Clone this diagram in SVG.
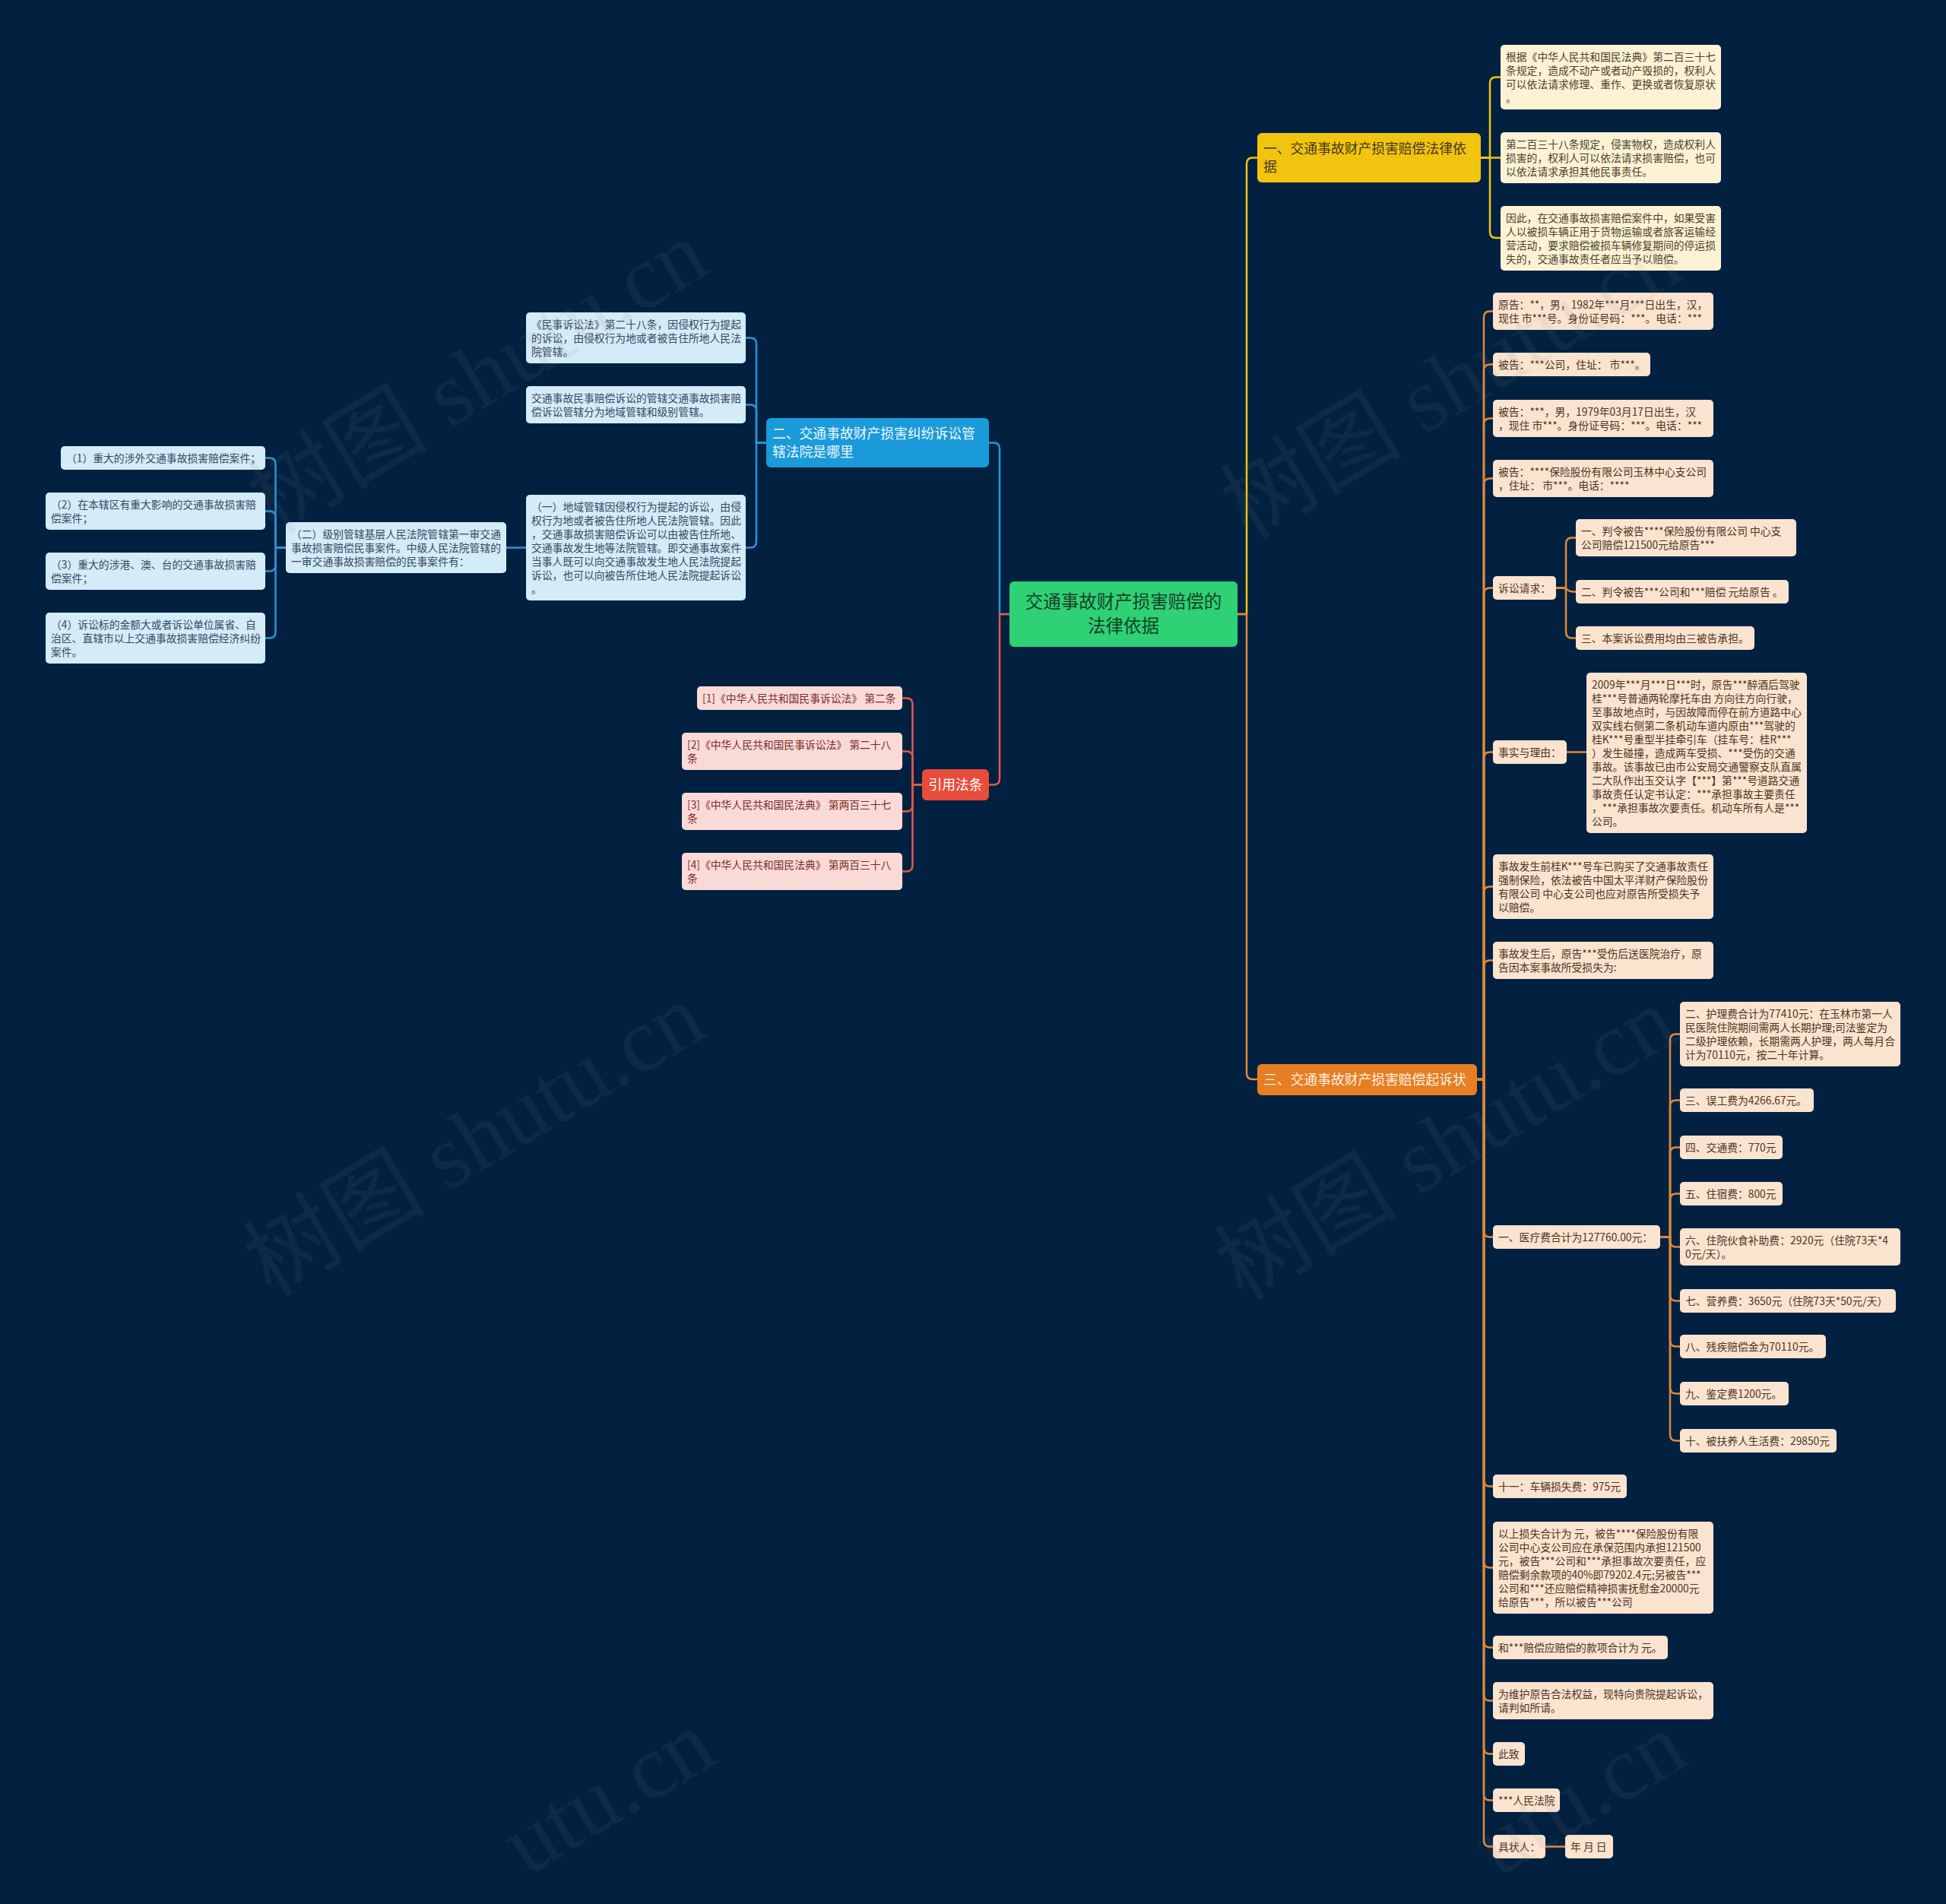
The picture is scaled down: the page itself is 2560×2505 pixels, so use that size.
<svg xmlns="http://www.w3.org/2000/svg" width="2560" height="2505" viewBox="0 0 2560 2505">
<style>
text{font-family:"Noto Sans CJK SC","Noto Sans",sans-serif}
.s{font-size:13.8px}
.b{font-size:17.8px}
.ly rect{fill:#fdf3d4}.ly text{fill:#4a4130}
.lo rect{fill:#fae3cf}.lo text{fill:#4d3422}
.lb rect{fill:#d4ebf8}.lb text{fill:#34495e}
.lr rect{fill:#fadad7}.lr text{fill:#7a2e28}
.c{fill:none;stroke-width:2.5;stroke-linecap:round}
.cy{stroke:#f1c40f}.co{stroke:#e0893a}.cb{stroke:#2d92d8}.cr{stroke:#e05a4a}
.wm{font-family:"Liberation Serif","Noto Sans CJK SC",serif;font-size:120px;fill:#8a8a8a;opacity:0.09}
</style>
<rect width="2560" height="2505" fill="#022140"/>

<g id="connectors">
<path class="c cy" d="M1628,808 H1640 V215.5 Q1640,207.5 1648,207.5 H1654"/>
<path class="c co" d="M1628,808 H1640 V1412 Q1640,1420 1648,1420 H1654"/>
<path class="c cb" d="M1328,808 H1315 V590.5 Q1315,582.5 1307,582.5 H1301"/>
<path class="c cr" d="M1328,808 H1315 V1024.5 Q1315,1032.5 1307,1032.5 H1301"/>

<path class="c cy" d="M1948,207.5 H1960 V109.5 Q1960,101.5 1968,101.5 H1974"/>
<path class="c cy" d="M1948,207.5 H1974"/>
<path class="c cy" d="M1948,207.5 H1960 V305 Q1960,313 1968,313 H1974"/>

<path class="c co" d="M1943,1420 H1952 V417.5 Q1952,409.5 1960,409.5 H1964"/>
<path class="c co" d="M1943,1420 H1952 V487.5 Q1952,479.5 1960,479.5 H1964"/>
<path class="c co" d="M1943,1420 H1952 V558.5 Q1952,550.5 1960,550.5 H1964"/>
<path class="c co" d="M1943,1420 H1952 V637.5 Q1952,629.5 1960,629.5 H1964"/>
<path class="c co" d="M1943,1420 H1952 V781.5 Q1952,773.5 1960,773.5 H1964"/>
<path class="c co" d="M1943,1420 H1952 V997.5 Q1952,989.5 1960,989.5 H1964"/>
<path class="c co" d="M1943,1420 H1952 V1174.5 Q1952,1166.5 1960,1166.5 H1964"/>
<path class="c co" d="M1943,1420 H1952 V1271.5 Q1952,1263.5 1960,1263.5 H1964"/>
<path class="c co" d="M1943,1420 H1952 V1619.5 Q1952,1627.5 1960,1627.5 H1964"/>
<path class="c co" d="M1943,1420 H1952 V1947.5 Q1952,1955.5 1960,1955.5 H1964"/>
<path class="c co" d="M1943,1420 H1952 V2054.5 Q1952,2062.5 1960,2062.5 H1964"/>
<path class="c co" d="M1943,1420 H1952 V2159.5 Q1952,2167.5 1960,2167.5 H1964"/>
<path class="c co" d="M1943,1420 H1952 V2229.5 Q1952,2237.5 1960,2237.5 H1964"/>
<path class="c co" d="M1943,1420 H1952 V2299.5 Q1952,2307.5 1960,2307.5 H1964"/>
<path class="c co" d="M1943,1420 H1952 V2360.5 Q1952,2368.5 1960,2368.5 H1964"/>
<path class="c co" d="M1943,1420 H1952 V2421.5 Q1952,2429.5 1960,2429.5 H1964"/>

<path class="c co" d="M2047,773.5 H2060 V715.5 Q2060,707.5 2068,707.5 H2073"/>
<path class="c co" d="M2047,773.5 H2055 C2062,773.5 2062,778.5 2069,778.5 H2073"/>
<path class="c co" d="M2047,773.5 H2060 V831.5 Q2060,839.5 2068,839.5 H2073"/>
<path class="c co" d="M2061,989.5 H2087"/>

<path class="c co" d="M2184,1627.5 H2197 V1368.5 Q2197,1360.5 2205,1360.5 H2210"/>
<path class="c co" d="M2184,1627.5 H2197 V1455.5 Q2197,1447.5 2205,1447.5 H2210"/>
<path class="c co" d="M2184,1627.5 H2197 V1517.5 Q2197,1509.5 2205,1509.5 H2210"/>
<path class="c co" d="M2184,1627.5 H2197 V1578.5 Q2197,1570.5 2205,1570.5 H2210"/>
<path class="c co" d="M2184,1627.5 H2197 V1632.5 Q2197,1640.5 2205,1640.5 H2210"/>
<path class="c co" d="M2184,1627.5 H2197 V1703.5 Q2197,1711.5 2205,1711.5 H2210"/>
<path class="c co" d="M2184,1627.5 H2197 V1763.5 Q2197,1771.5 2205,1771.5 H2210"/>
<path class="c co" d="M2184,1627.5 H2197 V1825.5 Q2197,1833.5 2205,1833.5 H2210"/>
<path class="c co" d="M2184,1627.5 H2197 V1887.5 Q2197,1895.5 2205,1895.5 H2210"/>
<path class="c co" d="M2033,2429.5 H2059"/>

<path class="c cb" d="M1008,582.5 H995 V452.5 Q995,444.5 987,444.5 H981"/>
<path class="c cb" d="M1008,582.5 H995 V540.5 Q995,532.5 987,532.5 H981"/>
<path class="c cb" d="M1008,582.5 H995 V712.5 Q995,720.5 987,720.5 H981"/>
<path class="c cb" d="M692,720.5 H666"/>
<path class="c cb" d="M376,720.5 H362.5 V610.5 Q362.5,602.5 354.5,602.5 H349"/>
<path class="c cb" d="M376,720.5 H362.5 V680.5 Q362.5,672.5 354.5,672.5 H349"/>
<path class="c cb" d="M376,720.5 H362.5 V743.5 Q362.5,751.5 354.5,751.5 H349"/>
<path class="c cb" d="M376,720.5 H362.5 V831.5 Q362.5,839.5 354.5,839.5 H349"/>

<path class="c cr" d="M1213,1032.5 H1200.5 V926.5 Q1200.5,918.5 1192.5,918.5 H1187"/>
<path class="c cr" d="M1213,1032.5 H1200.5 V996.5 Q1200.5,988.5 1192.5,988.5 H1187"/>
<path class="c cr" d="M1213,1032.5 H1200.5 V1059.5 Q1200.5,1067.5 1192.5,1067.5 H1187"/>
<path class="c cr" d="M1213,1032.5 H1200.5 V1138.5 Q1200.5,1146.5 1192.5,1146.5 H1187"/>
</g>

<g id="root">
<rect x="1328" y="765" width="300" height="86" rx="6" fill="#2ed174"/>
<text x="1478" y="800" text-anchor="middle" font-size="23.5" fill="#17402a">交通事故财产损害赔偿的</text>
<text x="1478" y="832" text-anchor="middle" font-size="23.5" fill="#17402a">法律依据</text>
</g>

<g id="branch-1">
<rect x="1654" y="175" width="294" height="65" rx="6" fill="#f1c40f"/>
<text class="b" fill="#45391a"><tspan x="1662" y="202">一、交通事故财产损害赔偿法律依</tspan><tspan x="1662" y="225.5">据</tspan></text>
</g>
<g id="y1" class="ly"><rect x="1974" y="59" width="290" height="85" rx="5"/>
<text class="s"><tspan x="1981" y="80">根据《中华人民共和国民法典》第二百三十七</tspan><tspan x="1981" y="98">条规定，造成不动产或者动产毁损的，权利人</tspan><tspan x="1981" y="116">可以依法请求修理、重作、更换或者恢复原状</tspan><tspan x="1981" y="134">。</tspan></text></g>
<g id="y2" class="ly"><rect x="1974" y="174" width="290" height="67" rx="5"/>
<text class="s"><tspan x="1981" y="195">第二百三十八条规定，侵害物权，造成权利人</tspan><tspan x="1981" y="213">损害的，权利人可以依法请求损害赔偿，也可</tspan><tspan x="1981" y="231">以依法请求承担其他民事责任。</tspan></text></g>
<g id="y3" class="ly"><rect x="1974" y="271" width="290" height="85" rx="5"/>
<text class="s"><tspan x="1981" y="292">因此，在交通事故损害赔偿案件中，如果受害</tspan><tspan x="1981" y="310">人以被损车辆正用于货物运输或者旅客运输经</tspan><tspan x="1981" y="328">营活动，要求赔偿被损车辆修复期间的停运损</tspan><tspan x="1981" y="346">失的，交通事故责任者应当予以赔偿。</tspan></text></g>

<g id="branch-3">
<rect x="1654" y="1400" width="289" height="41" rx="6" fill="#e67e22"/>
<text class="b" x="1662" y="1426.5" fill="#fdf1e6">三、交通事故财产损害赔偿起诉状</text>
</g>
<g id="o1" class="lo"><rect x="1964" y="385" width="290" height="49" rx="5"/>
<text class="s"><tspan x="1971" y="406">原告：**，男，1982年***月***日出生，汉，</tspan><tspan x="1971" y="424">现住 市***号。身份证号码：***。电话：***</tspan></text></g>
<g id="o2" class="lo"><rect x="1964" y="464" width="207" height="31" rx="5"/>
<text class="s" x="1971" y="485">被告：***公司，住址： 市***。</text></g>
<g id="o3" class="lo"><rect x="1964" y="526" width="290" height="49" rx="5"/>
<text class="s"><tspan x="1971" y="547">被告：***，男，1979年03月17日出生，汉</tspan><tspan x="1971" y="565">，现住 市***。身份证号码：***。电话：***</tspan></text></g>
<g id="o4" class="lo"><rect x="1964" y="605" width="290" height="49" rx="5"/>
<text class="s"><tspan x="1971" y="626">被告：****保险股份有限公司玉林中心支公司</tspan><tspan x="1971" y="644">，住址： 市***。电话：****</tspan></text></g>
<g id="o5" class="lo"><rect x="1964" y="758" width="83" height="31" rx="5"/>
<text class="s" x="1971" y="779">诉讼请求：</text></g>
<g id="o5a" class="lo"><rect x="2073" y="683" width="290" height="49" rx="5"/>
<text class="s"><tspan x="2080" y="704">一、判令被告****保险股份有限公司 中心支</tspan><tspan x="2080" y="722">公司赔偿121500元给原告***</tspan></text></g>
<g id="o5b" class="lo"><rect x="2073" y="763" width="280" height="31" rx="5"/>
<text class="s" x="2080" y="784">二、判令被告***公司和***赔偿 元给原告 。</text></g>
<g id="o5c" class="lo"><rect x="2073" y="824" width="235" height="31" rx="5"/>
<text class="s" x="2080" y="845">三、本案诉讼费用均由三被告承担。</text></g>
<g id="o6" class="lo"><rect x="1964" y="974" width="97" height="31" rx="5"/>
<text class="s" x="1971" y="995">事实与理由：</text></g>
<g id="o6a" class="lo"><rect x="2087" y="885" width="290" height="211" rx="5"/>
<text class="s"><tspan x="2094" y="906">2009年***月***日***时，原告***醉酒后驾驶</tspan><tspan x="2094" y="924">桂***号普通两轮摩托车由 方向往方向行驶，</tspan><tspan x="2094" y="942">至事故地点时，与因故障而停在前方道路中心</tspan><tspan x="2094" y="960">双实线右侧第二条机动车道内原由***驾驶的</tspan><tspan x="2094" y="978">桂K***号重型半挂牵引车（挂车号：桂R***</tspan><tspan x="2094" y="996">）发生碰撞，造成两车受损、***受伤的交通</tspan><tspan x="2094" y="1014">事故。该事故已由市公安局交通警察支队直属</tspan><tspan x="2094" y="1032">二大队作出玉交认字【***】第***号道路交通</tspan><tspan x="2094" y="1050">事故责任认定书认定：***承担事故主要责任</tspan><tspan x="2094" y="1068">，***承担事故次要责任。机动车所有人是***</tspan><tspan x="2094" y="1086">公司。</tspan></text></g>
<g id="o7" class="lo"><rect x="1964" y="1124" width="290" height="85" rx="5"/>
<text class="s"><tspan x="1971" y="1145">事故发生前桂K***号车已购买了交通事故责任</tspan><tspan x="1971" y="1163">强制保险，依法被告中国太平洋财产保险股份</tspan><tspan x="1971" y="1181">有限公司 中心支公司也应对原告所受损失予</tspan><tspan x="1971" y="1199">以赔偿。</tspan></text></g>
<g id="o8" class="lo"><rect x="1964" y="1239" width="290" height="49" rx="5"/>
<text class="s"><tspan x="1971" y="1260">事故发生后，原告***受伤后送医院治疗，原</tspan><tspan x="1971" y="1278">告因本案事故所受损失为:</tspan></text></g>
<g id="o9" class="lo"><rect x="1964" y="1612" width="220" height="31" rx="5"/>
<text class="s" x="1971" y="1633">一、医疗费合计为127760.00元：</text></g>
<g id="o9a" class="lo"><rect x="2210" y="1318" width="290" height="85" rx="5"/>
<text class="s"><tspan x="2217" y="1339">二、护理费合计为77410元：在玉林市第一人</tspan><tspan x="2217" y="1357">民医院住院期间需两人长期护理;司法鉴定为</tspan><tspan x="2217" y="1375">二级护理依赖，长期需两人护理，两人每月合</tspan><tspan x="2217" y="1393">计为70110元，按二十年计算。</tspan></text></g>
<g id="o9b" class="lo"><rect x="2210" y="1432" width="176" height="31" rx="5"/>
<text class="s" x="2217" y="1453">三、误工费为4266.67元。</text></g>
<g id="o9c" class="lo"><rect x="2210" y="1494" width="135" height="31" rx="5"/>
<text class="s" x="2217" y="1515">四、交通费：770元</text></g>
<g id="o9d" class="lo"><rect x="2210" y="1555" width="135" height="31" rx="5"/>
<text class="s" x="2217" y="1576">五、住宿费：800元</text></g>
<g id="o9e" class="lo"><rect x="2210" y="1616" width="290" height="49" rx="5"/>
<text class="s"><tspan x="2217" y="1637">六、住院伙食补助费：2920元（住院73天*4</tspan><tspan x="2217" y="1655">0元/天）。</tspan></text></g>
<g id="o9f" class="lo"><rect x="2210" y="1696" width="284" height="31" rx="5"/>
<text class="s" x="2217" y="1717">七、营养费：3650元（住院73天*50元/天）</text></g>
<g id="o9g" class="lo"><rect x="2210" y="1756" width="192" height="31" rx="5"/>
<text class="s" x="2217" y="1777">八、残疾赔偿金为70110元。</text></g>
<g id="o9h" class="lo"><rect x="2210" y="1818" width="143" height="31" rx="5"/>
<text class="s" x="2217" y="1839">九、鉴定费1200元。</text></g>
<g id="o9i" class="lo"><rect x="2210" y="1880" width="206" height="31" rx="5"/>
<text class="s" x="2217" y="1901">十、被扶养人生活费：29850元</text></g>
<g id="o10" class="lo"><rect x="1964" y="1940" width="176" height="31" rx="5"/>
<text class="s" x="1971" y="1961">十一：车辆损失费：975元</text></g>
<g id="o11" class="lo"><rect x="1964" y="2002" width="290" height="121" rx="5"/>
<text class="s"><tspan x="1971" y="2023">以上损失合计为 元，被告****保险股份有限</tspan><tspan x="1971" y="2041">公司中心支公司应在承保范围内承担121500</tspan><tspan x="1971" y="2059">元，被告***公司和***承担事故次要责任，应</tspan><tspan x="1971" y="2077">赔偿剩余款项的40%即79202.4元;另被告***</tspan><tspan x="1971" y="2095">公司和***还应赔偿精神损害抚慰金20000元</tspan><tspan x="1971" y="2113">给原告***，所以被告***公司</tspan></text></g>
<g id="o12" class="lo"><rect x="1964" y="2152" width="230" height="31" rx="5"/>
<text class="s" x="1971" y="2173">和***赔偿应赔偿的款项合计为 元。</text></g>
<g id="o13" class="lo"><rect x="1964" y="2213" width="290" height="49" rx="5"/>
<text class="s"><tspan x="1971" y="2234">为维护原告合法权益，现特向贵院提起诉讼，</tspan><tspan x="1971" y="2252">请判如所请。</tspan></text></g>
<g id="o14" class="lo"><rect x="1964" y="2292" width="42" height="31" rx="5"/>
<text class="s" x="1971" y="2313">此致</text></g>
<g id="o15" class="lo"><rect x="1964" y="2353" width="88" height="31" rx="5"/>
<text class="s" x="1971" y="2374">***人民法院</text></g>
<g id="o16" class="lo"><rect x="1964" y="2414" width="69" height="31" rx="5"/>
<text class="s" x="1971" y="2435">具状人：</text></g>
<g id="o16a" class="lo"><rect x="2059" y="2414" width="63" height="31" rx="5"/>
<text class="s" x="2066" y="2435">年 月 日</text></g>

<g id="branch-2">
<rect x="1008" y="550" width="293" height="65" rx="6" fill="#1b9ad9"/>
<text class="b" fill="#eef8ff"><tspan x="1016" y="577">二、交通事故财产损害纠纷诉讼管</tspan><tspan x="1016" y="600.5">辖法院是哪里</tspan></text>
</g>
<g id="b1" class="lb"><rect x="692" y="411" width="289" height="67" rx="5"/>
<text class="s"><tspan x="699" y="432">《民事诉讼法》第二十八条，因侵权行为提起</tspan><tspan x="699" y="450">的诉讼，由侵权行为地或者被告住所地人民法</tspan><tspan x="699" y="468">院管辖。</tspan></text></g>
<g id="b2" class="lb"><rect x="692" y="508" width="289" height="49" rx="5"/>
<text class="s"><tspan x="699" y="529">交通事故民事赔偿诉讼的管辖交通事故损害赔</tspan><tspan x="699" y="547">偿诉讼管辖分为地域管辖和级别管辖。</tspan></text></g>
<g id="b3" class="lb"><rect x="692" y="651" width="289" height="139" rx="5"/>
<text class="s"><tspan x="699" y="672">（一）地域管辖因侵权行为提起的诉讼，由侵</tspan><tspan x="699" y="690">权行为地或者被告住所地人民法院管辖。因此</tspan><tspan x="699" y="708">，交通事故损害赔偿诉讼可以由被告住所地、</tspan><tspan x="699" y="726">交通事故发生地等法院管辖。即交通事故案件</tspan><tspan x="699" y="744">当事人既可以向交通事故发生地人民法院提起</tspan><tspan x="699" y="762">诉讼，也可以向被告所住地人民法院提起诉讼</tspan><tspan x="699" y="780">。</tspan></text></g>
<g id="b3a" class="lb"><rect x="376" y="687" width="290" height="67" rx="5"/>
<text class="s"><tspan x="383" y="708">（二）级别管辖基层人民法院管辖第一审交通</tspan><tspan x="383" y="726">事故损害赔偿民事案件。中级人民法院管辖的</tspan><tspan x="383" y="744">一审交通事故损害赔偿的民事案件有：</tspan></text></g>
<g id="b3a1" class="lb"><rect x="80" y="587" width="269" height="31" rx="5"/>
<text class="s" x="87" y="608">（1）重大的涉外交通事故损害赔偿案件；</text></g>
<g id="b3a2" class="lb"><rect x="60" y="648" width="289" height="49" rx="5"/>
<text class="s"><tspan x="67" y="669">（2）在本辖区有重大影响的交通事故损害赔</tspan><tspan x="67" y="687">偿案件；</tspan></text></g>
<g id="b3a3" class="lb"><rect x="60" y="727" width="289" height="49" rx="5"/>
<text class="s"><tspan x="67" y="748">（3）重大的涉港、澳、台的交通事故损害赔</tspan><tspan x="67" y="766">偿案件；</tspan></text></g>
<g id="b3a4" class="lb"><rect x="60" y="806" width="289" height="67" rx="5"/>
<text class="s"><tspan x="67" y="827">（4）诉讼标的金额大或者诉讼单位属省、自</tspan><tspan x="67" y="845">治区、直辖市以上交通事故损害赔偿经济纠纷</tspan><tspan x="67" y="863">案件。</tspan></text></g>

<g id="branch-4">
<rect x="1213" y="1012" width="88" height="41" rx="6" fill="#e74c3c"/>
<text class="b" x="1257" y="1039" text-anchor="middle" fill="#ffffff">引用法条</text>
</g>
<g id="r1" class="lr"><rect x="917" y="903" width="270" height="31" rx="5"/>
<text class="s" x="924" y="924">[1]《中华人民共和国民事诉讼法》 第二条</text></g>
<g id="r2" class="lr"><rect x="897" y="964" width="290" height="49" rx="5"/>
<text class="s"><tspan x="904" y="985">[2]《中华人民共和国民事诉讼法》 第二十八</tspan><tspan x="904" y="1003">条</tspan></text></g>
<g id="r3" class="lr"><rect x="897" y="1043" width="290" height="49" rx="5"/>
<text class="s"><tspan x="904" y="1064">[3]《中华人民共和国民法典》 第两百三十七</tspan><tspan x="904" y="1082">条</tspan></text></g>
<g id="r4" class="lr"><rect x="897" y="1122" width="290" height="49" rx="5"/>
<text class="s"><tspan x="904" y="1143">[4]《中华人民共和国民法典》 第两百三十八</tspan><tspan x="904" y="1161">条</tspan></text></g>

<g id="watermark">
<text class="wm" transform="translate(649,530) rotate(-31)" text-anchor="middle">树图 shutu.cn</text>
<text class="wm" transform="translate(645,1534) rotate(-31)" text-anchor="middle">树图 shutu.cn</text>
<text class="wm" transform="translate(1930,538) rotate(-31)" text-anchor="middle">树图 shutu.cn</text>
<text class="wm" transform="translate(1923,1539) rotate(-31)" text-anchor="middle">树图 shutu.cn</text>
<text class="wm" transform="translate(947,2317) rotate(-31)" text-anchor="end">utu.cn</text>
<text class="wm" transform="translate(2225,2319) rotate(-31)" text-anchor="end">utu.cn</text>
</g>
</svg>
